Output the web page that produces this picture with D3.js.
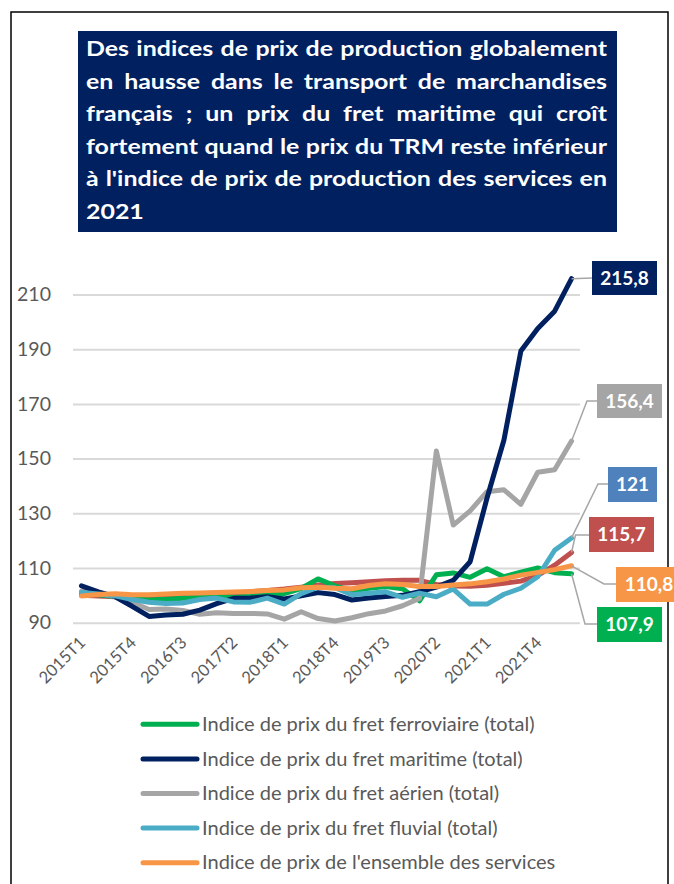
<!DOCTYPE html>
<html><head><meta charset="utf-8">
<script src="https://cdn.jsdelivr.net/npm/d3@7"></script>
<style>html,body{margin:0;padding:0;background:#fff;} svg{display:block;}</style>
</head><body>
<svg id="chart" width="674" height="884"></svg>
<script>
// ---------- DATA ----------
const quarters = ["2015T1","2015T2","2015T3","2015T4","2016T1","2016T2","2016T3","2016T4",
  "2017T1","2017T2","2017T3","2017T4","2018T1","2018T2","2018T3","2018T4",
  "2019T1","2019T2","2019T3","2019T4","2020T1","2020T2","2020T3","2020T4",
  "2021T1","2021T2","2021T3","2021T4","2022T1","2022T2"];

const fretFerroviaire = [100.5,100.2,99.6,98.8,98.3,98.6,98.9,99.2,99.5,99.3,99.6,100.1,100.6,102.5,106,103.5,101.5,102.6,103.2,102.4,98,107.5,108.2,106.6,109.7,106.8,108.5,110,108.3,107.9];
const fretMaritime = [103.5,101.3,99.5,96,92.3,92.8,93.1,94.6,97,98.9,99,99.5,98.7,99.8,101,100.3,98.3,99,99.6,100,101.3,103,105.5,112.3,135.6,156.8,189.3,197.6,203.9,215.8];
const fretAerien = [101.5,100.8,99.5,97.5,94.8,95,94.5,93.1,93.6,93.4,93.4,93.2,91.3,94,91.5,90.6,91.8,93.3,94.3,96.2,98.9,152.8,125.7,130.9,137.9,138.6,133.3,145,145.9,156.4];
const fretFluvial = [101,100.5,99.8,98.5,97.5,97,97.2,98.5,99,97.6,97.5,99,96.8,100.6,103,102.8,100.2,100.8,101.3,99.3,100.8,99.5,102.3,96.8,96.8,100.4,102.6,106.8,116.5,121];
const ensembleServices = [99.8,100.3,100.6,100.2,100.2,100.5,100.8,100.9,101,101.2,101.4,101.8,102,102.8,103,102.6,102.4,103.6,104.2,104,103.2,103.2,103.8,104.2,105,106,107.4,108.4,109.4,110.8];
const prixTRM = [100,99.8,99.5,99.3,99.2,99.3,99.6,100,100.5,100.8,101.3,101.8,102.3,103,103.8,104.3,104.6,105,105.3,105.5,105.5,104,103.4,103.3,103.7,104.4,105.2,107.3,111,115.7];

const yTicks = [90,110,130,150,170,190,210];
const xTickLabels = ["2015T1","2015T4","2016T3","2017T2","2018T1","2018T4","2019T3","2020T2","2021T1","2021T4"];

const titleLines = [
  "Des indices de prix de production globalement",
  "en hausse dans le transport de marchandises",
  "français ; un prix du fret maritime qui croît",
  "fortement quand le prix du TRM reste inférieur",
  "à l'indice de prix de production des services en",
  "2021"
];

const legendLabels = [
  "Indice de prix du fret ferroviaire (total)",
  "Indice de prix du fret maritime (total)",
  "Indice de prix du fret aérien (total)",
  "Indice de prix du fret fluvial (total)",
  "Indice de prix de l'ensemble des services"
];

// ---------- STYLE / LAYOUT ----------
const series = [
  {key:"trm",   values: prixTRM,          color:"#c0504d", box:"#c0504d"},
  {key:"ferro", values: fretFerroviaire,  color:"#00b050", box:"#00b050"},
  {key:"aer",   values: fretAerien,       color:"#a5a5a5", box:"#a5a5a5"},
  {key:"mar",   values: fretMaritime,     color:"#002060", box:"#002060"},
  {key:"fluv",  values: fretFluvial,      color:"#4bacc6", box:"#4f81bd"},
  {key:"serv",  values: ensembleServices, color:"#f79646", box:"#f79646"}
];
const legendColors = ["#00b050","#002060","#a5a5a5","#4bacc6","#f79646"];

// end-label boxes [x0,y0,x1,y1] and leader elbows (layout only)
const endLabels = {
  mar:   {box:[592,261,657,295], elbow:null},
  aer:   {box:[597,384,662,418], elbow:[587,401]},
  fluv:  {box:[608,467,657,502], elbow:[598,484]},
  trm:   {box:[589,517,654,552], elbow:[575.5,535]},
  serv:  {box:[616,567,682,602], elbow:[604,584]},
  ferro: {box:[597,607,662,642], elbow:[585,624]}
};

const FONT = "Lato, 'Open Sans', sans-serif";
const svg = d3.select("#chart");
svg.append("rect").attr("width",674).attr("height",884).attr("fill","#fff");

// frame
svg.append("path")
  .attr("d","M11,884 L11,12 L668,12 L668,884")
  .attr("fill","none").attr("stroke","#000").attr("stroke-width",1.5);

// ---------- TITLE ----------
svg.append("rect").attr("x",78).attr("y",31).attr("width",539).attr("height",201).attr("fill","#002060");
(function(){
  const FS = 21.5;
  const g = svg.append("g");
  const tmp = g.append("text").attr("font-family",FONT).attr("font-weight",700).attr("font-size",FS);
  const measure = w => { tmp.text(w); return tmp.node().getComputedTextLength(); };
  const spaceW = measure("a a") - measure("aa");
  const info = titleLines.map(l => { const words = l.split(" "); const ws = words.map(measure); return {words, ws, sum:d3.sum(ws)}; });
  tmp.remove();
  const width = 521, x0 = 86, y0 = 56, step = 32.6;
  const k = d3.min(info.slice(0,-1), d => width/(d.sum + (d.words.length-1)*spaceW*1.05));
  const inner = g.append("g").attr("transform",`translate(${x0},0) scale(${k},1)`);
  info.forEach((d,i) => {
    const last = i === info.length-1;
    const gap = last ? spaceW : (width/k - d.sum)/(d.words.length-1);
    const t = inner.append("text").attr("y", y0 + i*step)
      .attr("font-family",FONT).attr("font-weight",700).attr("font-size",FS).attr("fill","#fff");
    let cx = 0;
    d.words.forEach((w,j) => { t.append("tspan").attr("x",cx).text(w); cx += d.ws[j] + gap; });
  });
})();

// ---------- SCALES ----------
const x = d3.scalePoint().domain(quarters).range([73,580]).padding(0.5);
const y = d3.scaleLinear().domain([90,210]).range([622.7,294.5]);

// y axis + gridlines
const gy = svg.append("g").attr("transform","translate(73,0)")
  .call(d3.axisLeft(y).tickValues(yTicks).tickSize(-507).tickPadding(22).tickFormat(d3.format("d")));
gy.select(".domain").remove();
gy.selectAll(".tick line").attr("stroke","#d9d9d9").attr("stroke-width",2);
gy.selectAll(".tick text").attr("font-family",FONT).attr("font-size",19.5).attr("fill","#595959");

// x axis
const gx = svg.append("g").attr("transform",`translate(0,${y(90)})`)
  .call(d3.axisBottom(x).tickValues(xTickLabels).tickSize(0));
gx.select(".domain").remove();
gx.selectAll(".tick text")
  .attr("x",0).attr("y",0).attr("dy",0)
  .attr("transform","translate(4.5,21) rotate(-45)")
  .attr("text-anchor","end")
  .attr("font-family",FONT).attr("font-size",16.5).attr("fill","#595959");

// ---------- LINES ----------
const line = d3.line().x((d,i)=>x(quarters[i])).y(d=>y(d));
svg.append("g").selectAll("path").data(series).join("path")
  .attr("d", d => line(d.values))
  .attr("fill","none").attr("stroke", d=>d.color).attr("stroke-width",5)
  .attr("stroke-linejoin","round").attr("stroke-linecap","round");

// ---------- END LABELS ----------
const fr = d3.formatLocale({decimal:",", thousands:"\u00a0", grouping:[3], currency:["","€"]});
const fmt = fr.format(".1~f");
const gl = svg.append("g");
series.forEach(s => {
  const L = endLabels[s.key];
  const last = s.values[s.values.length-1];
  const px = x(quarters[quarters.length-1]), py = y(last);
  const [bx0,by0,bx1,by1] = L.box;
  const my = (by0+by1)/2;
  const pts = [[px,py]];
  if (L.elbow) pts.push(L.elbow);
  pts.push([bx0, L.elbow ? L.elbow[1] : my]);
  gl.append("path").attr("d", d3.line()(pts)).attr("fill","none")
    .attr("stroke","#a6a6a6").attr("stroke-width",1.5);
  gl.append("rect").attr("x",bx0).attr("y",by0).attr("width",bx1-bx0).attr("height",by1-by0).attr("fill",s.box);
  gl.append("text").attr("x",(bx0+bx1)/2).attr("y",my).attr("dy","0.36em")
    .attr("text-anchor","middle").attr("font-family",FONT).attr("font-weight",700)
    .attr("font-size",19).attr("fill","#fff").text(fmt(last));
});

// ---------- LEGEND ----------
(function(){
  const g = svg.append("g");
  const ly0 = 724.3, lstep = 34.6;
  legendLabels.forEach((lab,i) => {
    g.append("line").attr("x1",143).attr("x2",197).attr("y1",ly0+i*lstep).attr("y2",ly0+i*lstep)
      .attr("stroke",legendColors[i]).attr("stroke-width",5).attr("stroke-linecap","round");
  });
  const tg = g.append("g");
  const texts = tg.selectAll("text").data(legendLabels).join("text")
    .attr("x",0).attr("y",(d,i)=>ly0+i*lstep).attr("dy","0.36em")
    .attr("font-family",FONT).attr("font-size",18.5).attr("fill","#595959").text(d=>d);
  const w0 = texts.nodes()[0].getComputedTextLength();
  const k = 333 / w0;
  tg.attr("transform",`translate(202,0) scale(${k},1)`);
})();
</script>
</body></html>
